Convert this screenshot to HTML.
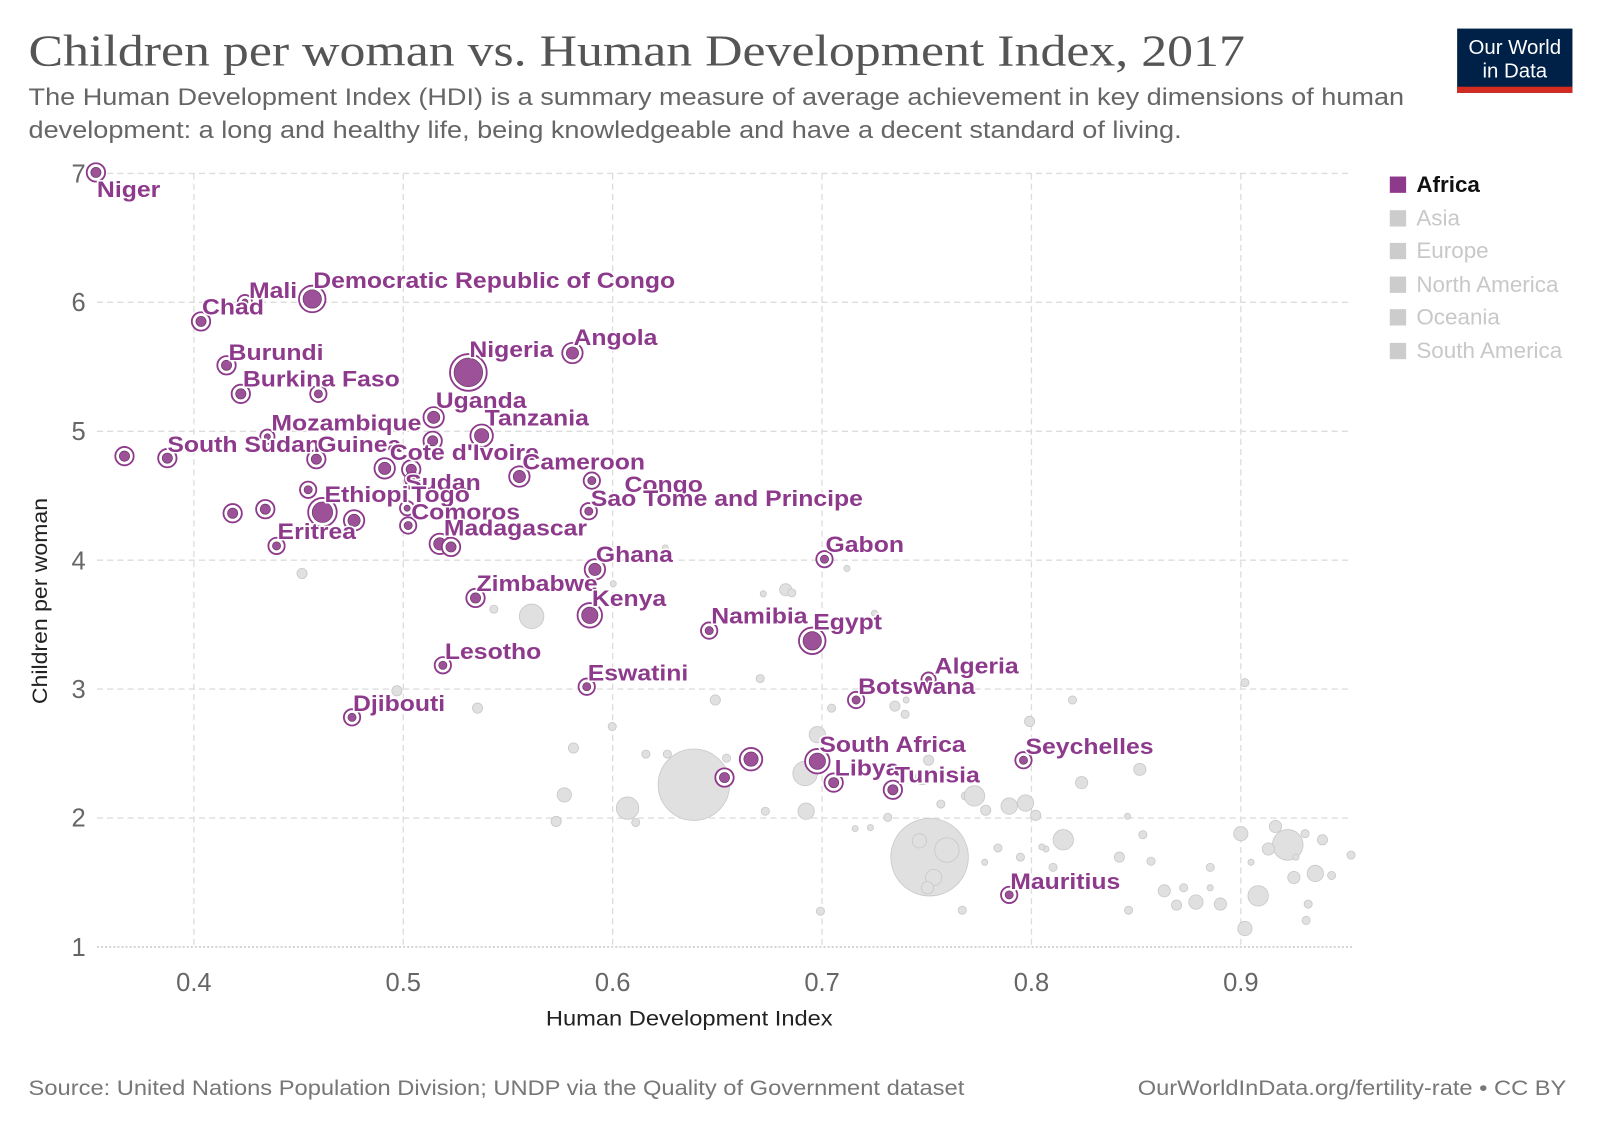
<!DOCTYPE html>
<html><head><meta charset="utf-8"><style>
html,body{margin:0;padding:0;background:#fff;}
svg{display:block;}
text{font-family:"Liberation Sans",Arial,sans-serif;}
.lb{font-weight:bold;font-size:21.5px;fill:#8e3a8c;stroke:#fff;stroke-width:3px;paint-order:stroke;stroke-linejoin:round;}
.g circle{fill:#e0e0e0;stroke:#c8c8c8;stroke-width:0.8;}
.tk{font-size:25px;fill:#666;}
.lg{font-size:22px;fill:#c8c8c8;}
</style></head><body>
<svg width="1600" height="1130" viewBox="0 0 1568 1107.4" xmlns="http://www.w3.org/2000/svg">
<text x="28" y="64" style="font-family:'Liberation Serif',serif" font-size="44" fill="#555" textLength="1192" lengthAdjust="spacingAndGlyphs">Children per woman vs. Human Development Index, 2017</text>
<text x="28" y="103" font-size="24" fill="#666" textLength="1348" lengthAdjust="spacingAndGlyphs">The Human Development Index (HDI) is a summary measure of average achievement in key dimensions of human</text>
<text x="28" y="135" font-size="24" fill="#666" textLength="1130" lengthAdjust="spacingAndGlyphs">development: a long and healthy life, being knowledgeable and have a decent standard of living.</text>
<rect x="1428" y="28" width="113" height="63" fill="#002147"/>
<rect x="1428" y="85" width="113" height="6" fill="#d42b21"/>
<text x="1484.5" y="53" font-size="20" fill="#fff" text-anchor="middle">Our World</text>
<text x="1484.5" y="76" font-size="20" fill="#fff" text-anchor="middle">in Data</text>
<g stroke="#ddd" stroke-width="1.3" stroke-dasharray="6,4">
<line x1="95" x2="1325" y1="170" y2="170"/><line x1="95" x2="1325" y1="296.3" y2="296.3"/><line x1="95" x2="1325" y1="422.7" y2="422.7"/><line x1="95" x2="1325" y1="549" y2="549"/><line x1="95" x2="1325" y1="675.3" y2="675.3"/><line x1="95" x2="1325" y1="801.7" y2="801.7"/>
<line x1="190" x2="190" y1="170" y2="928"/><line x1="395.2" x2="395.2" y1="170" y2="928"/><line x1="600.4" x2="600.4" y1="170" y2="928"/><line x1="805.6" x2="805.6" y1="170" y2="928"/><line x1="1010.8" x2="1010.8" y1="170" y2="928"/><line x1="1216" x2="1216" y1="170" y2="928"/>
</g>
<line x1="95" x2="1325" y1="928" y2="928" stroke="#ccc" stroke-width="1.5" stroke-dasharray="2,2"/>
<g class="tk" text-anchor="end"><text x="84" y="179">7</text><text x="84" y="305">6</text><text x="84" y="431">5</text><text x="84" y="558">4</text><text x="84" y="684">3</text><text x="84" y="810">2</text><text x="84" y="937">1</text></g>
<g class="tk" text-anchor="middle"><text x="190" y="971">0.4</text><text x="395.2" y="971">0.5</text><text x="600.4" y="971">0.6</text><text x="805.6" y="971">0.7</text><text x="1010.8" y="971">0.8</text><text x="1216" y="971">0.9</text></g>
<text x="535" y="1005" font-size="21" fill="#222" textLength="281" lengthAdjust="spacingAndGlyphs">Human Development Index</text>
<text transform="translate(46,690) rotate(-90)" font-size="21" fill="#222" textLength="202" lengthAdjust="spacingAndGlyphs">Children per woman</text>
<text x="28" y="1073" font-size="21" fill="#777" textLength="917" lengthAdjust="spacingAndGlyphs">Source: United Nations Population Division; UNDP via the Quality of Government dataset</text>
<text x="1115" y="1073" font-size="21" fill="#777" textLength="420" lengthAdjust="spacingAndGlyphs">OurWorldInData.org/fertility-rate • CC BY</text>
<rect x="1362" y="173" width="16" height="16" fill="#8e3a8c"/><text x="1388" y="188" font-size="22" font-weight="bold" fill="#111">Africa</text>
<rect x="1362" y="206" width="16" height="16" fill="#ccc"/><text class="lg" x="1388" y="221">Asia</text>
<rect x="1362" y="238" width="16" height="16" fill="#ccc"/><text class="lg" x="1388" y="253">Europe</text>
<rect x="1362" y="271" width="16" height="16" fill="#ccc"/><text class="lg" x="1388" y="286">North America</text>
<rect x="1362" y="303" width="16" height="16" fill="#ccc"/><text class="lg" x="1388" y="318">Oceania</text>
<rect x="1362" y="336" width="16" height="16" fill="#ccc"/><text class="lg" x="1388" y="351">South America</text>
<g class="g">
<circle cx="680" cy="769" r="35"/><circle cx="911" cy="840" r="38"/><circle cx="928" cy="833" r="12"/><circle cx="901" cy="824" r="7"/><circle cx="915" cy="860" r="8"/><circle cx="909" cy="870" r="6"/><circle cx="521" cy="604" r="12"/><circle cx="615" cy="792" r="11"/><circle cx="553" cy="779" r="7"/><circle cx="545" cy="805" r="5"/><circle cx="562" cy="733" r="5"/><circle cx="633" cy="739" r="4"/><circle cx="623" cy="806" r="4"/><circle cx="701" cy="686" r="5"/><circle cx="745" cy="665" r="4"/><circle cx="750" cy="795" r="4"/><circle cx="600" cy="712" r="4"/><circle cx="712" cy="743" r="4"/><circle cx="790" cy="795" r="8"/><circle cx="789" cy="758" r="12"/><circle cx="801" cy="720" r="8"/><circle cx="815" cy="694" r="4"/><circle cx="770" cy="578" r="6"/><circle cx="776" cy="581" r="4"/><circle cx="830" cy="557" r="3"/><circle cx="857" cy="601" r="3"/><circle cx="877" cy="692" r="5"/><circle cx="887" cy="700" r="4"/><circle cx="888" cy="686" r="3"/><circle cx="910" cy="745" r="5"/><circle cx="904" cy="762" r="7"/><circle cx="946" cy="780" r="4"/><circle cx="955" cy="780" r="10"/><circle cx="966" cy="794" r="5"/><circle cx="922" cy="788" r="4"/><circle cx="1005" cy="787" r="8"/><circle cx="989" cy="790" r="8"/><circle cx="1015" cy="799" r="5"/><circle cx="1009" cy="707" r="5"/><circle cx="1051" cy="686" r="4"/><circle cx="1042" cy="823" r="10"/><circle cx="1060" cy="767" r="6"/><circle cx="1117" cy="754" r="6"/><circle cx="1120" cy="818" r="4"/><circle cx="1105" cy="800" r="3"/><circle cx="1106" cy="892" r="4"/><circle cx="1097" cy="840" r="5"/><circle cx="1128" cy="844" r="4"/><circle cx="1141" cy="873" r="6"/><circle cx="1153" cy="887" r="5"/><circle cx="1172" cy="884" r="7"/><circle cx="1196" cy="886" r="6"/><circle cx="1186" cy="850" r="4"/><circle cx="1216" cy="817" r="7"/><circle cx="1220" cy="669" r="4"/><circle cx="1250" cy="810" r="6"/><circle cx="1262" cy="828" r="15"/><circle cx="1268" cy="860" r="6"/><circle cx="1289" cy="856" r="8"/><circle cx="1296" cy="823" r="5"/><circle cx="1305" cy="858" r="4"/><circle cx="1324" cy="838" r="4"/><circle cx="1233" cy="878" r="10"/><circle cx="1220" cy="910" r="7"/><circle cx="1282" cy="886" r="4"/><circle cx="1280" cy="902" r="4"/><circle cx="1226" cy="845" r="3"/><circle cx="1243" cy="832" r="6"/><circle cx="1279" cy="817" r="4"/><circle cx="1270" cy="840" r="3"/><circle cx="1000" cy="840" r="4"/><circle cx="978" cy="831" r="4"/><circle cx="965" cy="845" r="3"/><circle cx="1025" cy="832" r="3"/><circle cx="1032" cy="850" r="4"/><circle cx="1021" cy="830" r="3"/><circle cx="943" cy="892" r="4"/><circle cx="804" cy="893" r="4"/><circle cx="838" cy="812" r="3"/><circle cx="853" cy="811" r="3"/><circle cx="870" cy="801" r="4"/><circle cx="296" cy="562" r="5"/><circle cx="484" cy="597" r="4"/><circle cx="468" cy="694" r="5"/><circle cx="389" cy="677" r="5"/><circle cx="654" cy="739" r="4"/><circle cx="601" cy="572" r="3"/><circle cx="603" cy="590" r="3"/><circle cx="652" cy="537" r="3"/><circle cx="748" cy="582" r="3"/><circle cx="1186" cy="870" r="3"/><circle cx="1160" cy="870" r="4"/>
</g>
<g id="af"></g>
<g id="lbl"></g>
</svg>
<script>
var P=[[94,169,5],[197,315,5],[240,296,3],[306,293,9],[222,358,5],[236,386,5],[312,386,4],[262,428,3],[164,449,5],[122,447,5],[310,450,5],[459,365,14],[561,346,6],[425,409,6],[472,427,7],[424,432,5],[377,459,6],[403,460,5],[509,467,6],[580,471,4],[577,501,4],[404,470,3],[316,502,10],[400,515,4],[399,498,3],[431,533,6],[442,536,5],[302,480,4],[228,503,5],[260,499,5],[347,510,6],[271,535,4],[583,558,6],[466,586,5],[578,603,8],[695,618,4],[808,548,4],[796,628,9],[434,652,4],[575,673,4],[345,703,4],[910,666,3],[839,686,4],[801,746,8],[736,744,7],[710,762,5],[817,767,5],[875,774,5],[1003,745,4],[989,877,4]];
var L=[["Niger",95,193],["Chad",198,308],["Mali",244,292],["Democratic Republic of Congo",307,282],["Burundi",224,353],["Burkina Faso",238,379],["Mozambique",266,422],["South Sudan",164,443],["Guinea",311,443],["Nigeria",460,350],["Angola",562,338],["Uganda",427,400],["Tanzania",475,417],["Cote d'Ivoire",382,451],["Cameroon",512,460],["Congo",612,482],["Sao Tome and Principe",579,496],["Sudan",397,480],["Ethiopi",318,492],["Togo",403,492],["Comoros",403,509],["Madagascar",435,525],["Eritrea",272,528],["Ghana",584,551],["Zimbabwe",467,579],["Kenya",580,594],["Namibia",697,611],["Gabon",809,541],["Egypt",797,617],["Lesotho",436,646],["Eswatini",576,667],["Djibouti",346,697],["Algeria",916,660],["Botswana",841,680],["South Africa",803,737],["Libya",818,760],["Tunisia",877,767],["Seychelles",1005,739],["Mauritius",990,871]];
var ns="http://www.w3.org/2000/svg",af=document.getElementById('af'),lb=document.getElementById('lbl');
P.forEach(function(p){var o=document.createElementNS(ns,'circle');o.setAttribute('cx',p[0]);o.setAttribute('cy',p[1]);o.setAttribute('r',p[2]+4);o.setAttribute('fill','#fff');o.setAttribute('stroke','#8e3a8c');o.setAttribute('stroke-width','1.8');af.appendChild(o);
var c=document.createElementNS(ns,'circle');c.setAttribute('cx',p[0]);c.setAttribute('cy',p[1]);c.setAttribute('r',p[2]);c.setAttribute('fill','#9c5199');c.setAttribute('stroke','#6a3a68');c.setAttribute('stroke-width','0.7');af.appendChild(c);});
L.forEach(function(l){var t=document.createElementNS(ns,'text');t.setAttribute('class','lb');t.setAttribute('x',l[1]);t.setAttribute('y',l[2]);t.textContent=l[0];lb.appendChild(t);
try{var w=t.getComputedTextLength();if(w>0){t.setAttribute('textLength',(w*1.13).toFixed(1));t.setAttribute('lengthAdjust','spacingAndGlyphs');}}catch(e){}});
</script>
</body></html>
